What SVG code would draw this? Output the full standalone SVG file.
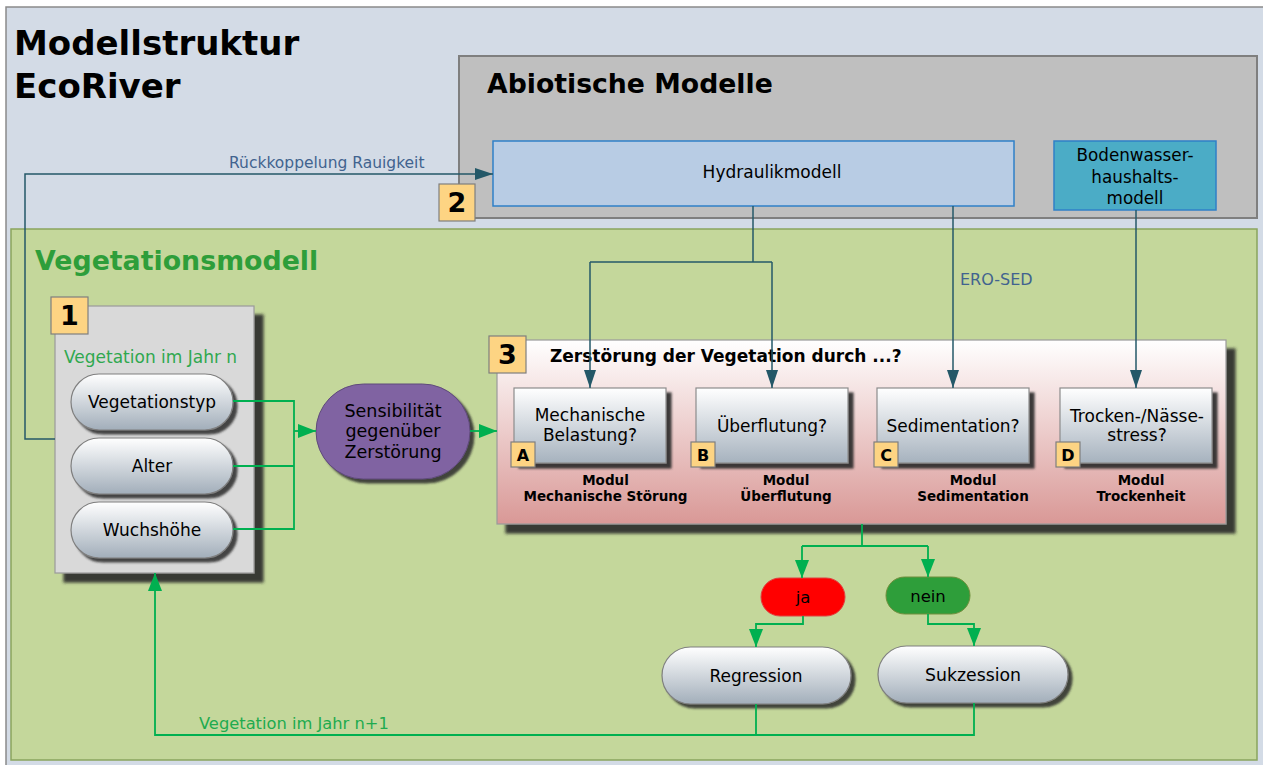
<svg xmlns="http://www.w3.org/2000/svg" width="1263" height="765" viewBox="0 0 1263 765">
<defs>
<style>
text{font-family:"DejaVu Sans","Liberation Sans",sans-serif;}
.b{font-weight:bold;}
.c{text-anchor:middle;}
.tl{fill:none;stroke:#245868;stroke-width:1.5;}
.gl{fill:none;stroke:#00b050;stroke-width:1.8;}
.badge{fill:#fdd483;stroke:#7f7f7f;stroke-width:1.2;}
.pill{fill:url(#pillG);stroke:#7f7f7f;stroke-width:1.2;filter:url(#sh4);}
.mod{fill:url(#modG);stroke:#8c8c8c;stroke-width:1.2;filter:url(#sh5);}
</style>
<linearGradient id="pillG" x1="0" y1="0" x2="0" y2="1"><stop offset="0" stop-color="#ffffff"/><stop offset="1" stop-color="#a2aeba"/></linearGradient>
<linearGradient id="modG" x1="0" y1="0" x2="0" y2="1"><stop offset="0" stop-color="#ffffff"/><stop offset="1" stop-color="#a6b2be"/></linearGradient>
<linearGradient id="box3G" x1="0" y1="0" x2="0" y2="1"><stop offset="0" stop-color="#ffffff"/><stop offset="1" stop-color="#d99896"/></linearGradient>
<filter id="sh8" x="-10%" y="-10%" width="130%" height="130%"><feDropShadow dx="9" dy="9" stdDeviation="1.5" flood-color="#2a2a2a" flood-opacity="0.9"/></filter>
<filter id="sh5" x="-10%" y="-10%" width="130%" height="130%"><feDropShadow dx="5" dy="5" stdDeviation="1" flood-color="#2a2a2a" flood-opacity="0.9"/></filter>
<filter id="sh4" x="-10%" y="-10%" width="130%" height="130%"><feDropShadow dx="4" dy="4" stdDeviation="1" flood-color="#2a2a2a" flood-opacity="0.85"/></filter>
<marker id="ga" markerUnits="userSpaceOnUse" markerWidth="18" markerHeight="14" refX="18" refY="7" orient="auto"><path d="M0,0 L18,7 L0,14 z" fill="#00b050"/></marker>
<marker id="ta" markerUnits="userSpaceOnUse" markerWidth="18" markerHeight="12" refX="18" refY="6" orient="auto"><path d="M0,0 L18,6 L0,12 z" fill="#245868"/></marker>
</defs>

<rect x="6" y="7" width="1262" height="765" fill="#d3dbe6" stroke="#8a8a8a" stroke-width="1.5"/>
<text class="b" x="14" y="55" font-size="34">Modellstruktur</text>
<text class="b" x="14" y="98" font-size="34">EcoRiver</text>

<g id="abiotisch">
<rect x="459" y="56" width="798" height="162" fill="#bfbfbf" stroke="#7f7f7f" stroke-width="2"/>
<text class="b" x="487" y="93" font-size="26.7">Abiotische Modelle</text>
</g>

<g id="vegetationsmodell">
<rect x="11" y="229" width="1246" height="531" fill="#c4d79b" stroke="#8aa55e" stroke-width="1.5"/>
<text class="b" x="35" y="270" font-size="26.8" fill="#2e9e3a">Vegetationsmodell</text>
</g>

<g id="hydraulik">
<rect x="493" y="141" width="521" height="65" fill="#b8cce4" stroke="#2f80c8" stroke-width="1.5"/>
<text class="c" x="772" y="178" font-size="17">Hydraulikmodell</text>
</g>

<g id="bodenwasser">
<rect x="1054" y="141" width="162" height="69" fill="#4bacc6" stroke="#2f80c8" stroke-width="1.5"/>
<text class="c" x="1135" y="161" font-size="16.8">Bodenwasser-</text>
<text class="c" x="1135" y="183" font-size="16.8">haushalts-</text>
<text class="c" x="1135" y="204" font-size="16.8">modell</text>
</g>

<g id="badge2">
<rect class="badge" x="439" y="184" width="36" height="37"/>
<text class="b c" x="457" y="212" font-size="27">2</text>
</g>

<g id="box1">
<rect x="55" y="306" width="199" height="267" fill="#d9d9d9" stroke="#9a9a9a" stroke-width="1.2" filter="url(#sh8)"/>
<rect class="badge" x="51" y="297" width="37" height="37"/>
<text class="b c" x="69.5" y="325" font-size="27">1</text>
<text x="64" y="363" font-size="17" fill="#2fa84f">Vegetation im Jahr n</text>
</g>

<g id="vegetationstyp">
<rect class="pill" x="71" y="374" width="162" height="56" rx="28"/>
<text class="c" x="152" y="408" font-size="17">Vegetationstyp</text>
</g>
<g id="alter">
<rect class="pill" x="71" y="438" width="162" height="56" rx="28"/>
<text class="c" x="152" y="472" font-size="17">Alter</text>
</g>
<g id="wuchshoehe">
<rect class="pill" x="71" y="502" width="162" height="56" rx="28"/>
<text class="c" x="152" y="536" font-size="17">Wuchshöhe</text>
</g>

<g id="sensibilitaet">
<rect x="316" y="384" width="154" height="95" rx="47.5" fill="#8064a2" stroke="#5f4a7a" stroke-width="1" filter="url(#sh4)"/>
<text class="c" x="393" y="417" font-size="17.5">Sensibilität</text>
<text class="c" x="393" y="437" font-size="17.5">gegenüber</text>
<text class="c" x="393" y="458" font-size="17.5">Zerstörung</text>
</g>

<g id="box3">
<rect x="497" y="340" width="729" height="184" fill="url(#box3G)" stroke="#9a9a9a" stroke-width="1.2" filter="url(#sh8)"/>
<rect class="badge" x="489" y="336" width="37" height="37"/>
<text class="b c" x="507.5" y="364" font-size="27">3</text>
<text class="b" x="550" y="362" font-size="17">Zerstörung der Vegetation durch ...?</text>
</g>

<g id="modulA">
<rect class="mod" x="514" y="388" width="152" height="75"/>
<text class="c" x="590" y="421" font-size="17">Mechanische</text>
<text class="c" x="590" y="441" font-size="17">Belastung?</text>
<rect class="badge" x="511" y="442" width="24" height="25"/>
<text class="b c" x="523" y="461" font-size="16">A</text>
<text class="b c" x="605.5" y="485" font-size="13.5">Modul</text>
<text class="b c" x="605.5" y="501" font-size="13.5">Mechanische Störung</text>
</g>
<g id="modulB">
<rect class="mod" x="696" y="388" width="152" height="75"/>
<text class="c" x="772" y="432" font-size="17">Überflutung?</text>
<rect class="badge" x="691" y="442" width="24" height="25"/>
<text class="b c" x="703" y="461" font-size="16">B</text>
<text class="b c" x="786" y="485" font-size="13.5">Modul</text>
<text class="b c" x="786" y="501" font-size="13.5">Überflutung</text>
</g>
<g id="modulC">
<rect class="mod" x="877" y="388" width="152" height="75"/>
<text class="c" x="953" y="432" font-size="17">Sedimentation?</text>
<rect class="badge" x="874" y="442" width="24" height="25"/>
<text class="b c" x="886" y="461" font-size="16">C</text>
<text class="b c" x="973" y="485" font-size="13.5">Modul</text>
<text class="b c" x="973" y="501" font-size="13.5">Sedimentation</text>
</g>
<g id="modulD">
<rect class="mod" x="1060" y="388" width="152" height="75"/>
<text class="c" x="1137" y="422" font-size="17">Trocken-/Nässe-</text>
<text class="c" x="1137" y="441" font-size="17">stress?</text>
<rect class="badge" x="1056" y="442" width="24" height="25"/>
<text class="b c" x="1068" y="461" font-size="16">D</text>
<text class="b c" x="1141" y="485" font-size="13.5">Modul</text>
<text class="b c" x="1141" y="501" font-size="13.5">Trockenheit</text>
</g>

<g id="ja">
<rect x="761" y="578" width="84" height="38" rx="19" fill="#ff0000" stroke="#e04040" stroke-width="1"/>
<text class="c" x="803" y="603" font-size="16.5">ja</text>
</g>
<g id="nein">
<rect x="886" y="577" width="84" height="37" rx="18.5" fill="#2e9e3a" stroke="#6f8f3c" stroke-width="1"/>
<text class="c" x="928" y="602" font-size="16.5">nein</text>
</g>

<g id="regression">
<rect class="pill" x="662" y="647" width="189" height="57" rx="28.5"/>
<text class="c" x="756" y="682" font-size="17">Regression</text>
</g>
<g id="sukzession">
<rect class="pill" x="878" y="646" width="190" height="57" rx="28.5"/>
<text class="c" x="973" y="681" font-size="17.3">Sukzession</text>
</g>

<g id="connectors">
<polyline class="tl" points="55,439 25,439 25,174 493,174" marker-end="url(#ta)"/>
<polyline class="tl" points="753,206 753,262"/>
<polyline class="tl" points="590,262 772,262"/>
<polyline class="tl" points="590,262 590,388" marker-end="url(#ta)"/>
<polyline class="tl" points="772,262 772,388" marker-end="url(#ta)"/>
<polyline class="tl" points="953,206 953,388" marker-end="url(#ta)"/>
<polyline class="tl" points="1136,210 1136,388" marker-end="url(#ta)"/>
<polyline class="gl" points="233,401 294,401 294,529 233,529"/>
<polyline class="gl" points="233,466 294,466"/>
<polyline class="gl" points="294,431 316,431" marker-end="url(#ga)"/>
<polyline class="gl" points="470,431 497,431" marker-end="url(#ga)"/>
<polyline class="gl" points="862,524 862,546"/>
<polyline class="gl" points="802,546 928,546"/>
<polyline class="gl" points="802,546 802,578" marker-end="url(#ga)"/>
<polyline class="gl" points="928,546 928,577" marker-end="url(#ga)"/>
<polyline class="gl" points="803,616 803,624 756,624 756,647" marker-end="url(#ga)"/>
<polyline class="gl" points="928,614 928,624 974,624 974,646" marker-end="url(#ga)"/>
<polyline class="gl" points="756,704 756,735"/>
<polyline class="gl" points="974,703 974,735 155,735 155,573" marker-end="url(#ga)"/>
<text x="229" y="168" font-size="15.5" fill="#41638f">Rückkoppelung Rauigkeit</text>
<text x="960" y="285" font-size="16" fill="#41638f">ERO-SED</text>
<text x="199" y="729" font-size="16.3" fill="#1fab4f">Vegetation im Jahr n+1</text>
</g>
</svg>
